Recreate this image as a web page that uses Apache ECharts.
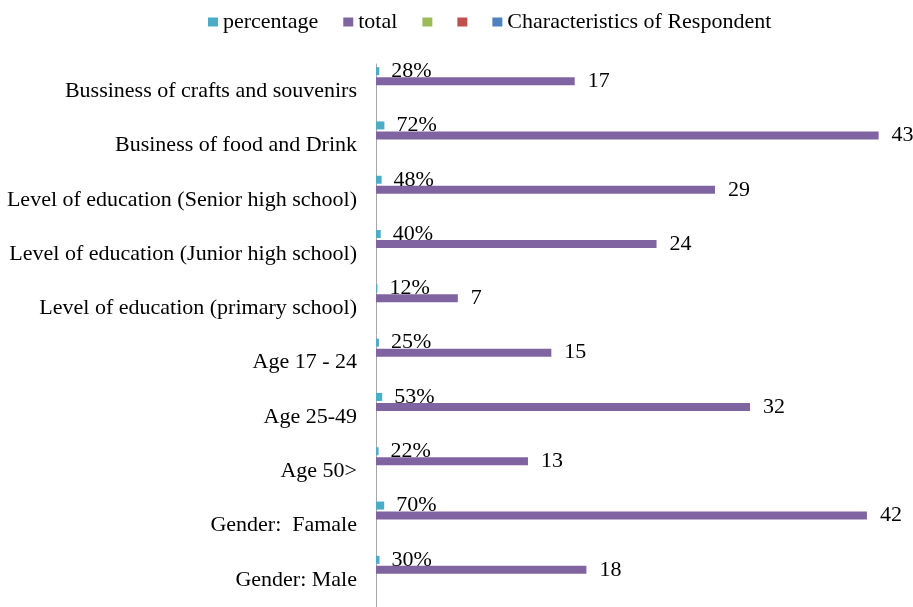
<!DOCTYPE html>
<html>
<head>
<meta charset="utf-8">
<script src="https://cdn.jsdelivr.net/npm/echarts@6/dist/echarts.min.js"></script>
<style>
html,body{margin:0;padding:0;background:#fff;}
#main{width:913px;height:607px;}
</style>
</head>
<body>
<div id="main"></div>
<script>
// top to bottom, as in the picture
var categories = ['Bussiness of crafts and souvenirs', 'Business of food and Drink',
	'Level of education (Senior high school)', 'Level of education (Junior high school)',
	'Level of education (primary school)', 'Age 17 - 24', 'Age 25-49', 'Age 50>',
	'Gender:  Famale', 'Gender: Male'];
var percentage = [0.28, 0.72, 0.48, 0.40, 0.12, 0.25, 0.53, 0.22, 0.70, 0.30];
var total = [17, 43, 29, 24, 7, 15, 32, 13, 42, 18];
var emptyValues = [null, null, null, null, null, null, null, null, null, null];

window.onload = function(){
	var myChart = echarts.init(document.getElementById('main'));
	var font = '"Liberation Serif", "Times New Roman", serif';
	var option = {
		backgroundColor: '#fff',
		animation: false,
		color: ['#4BACC6', '#8064A2', '#9BBB59', '#C0504D', '#4F81BD'],
		legend: {
			left: 208,
			top: 11,
			padding: 0,
			itemWidth: 10,
			itemHeight: 9,
			itemGap: 25,
			icon: 'rect',
			// the two unnamed series show only their square
			formatter: function(name){ return name.trim(); },
			textStyle: {fontFamily: font, fontSize: 22, color: '#000'},
			data: ['percentage', 'total', ' ', '  ', 'Characteristics of Respondent']
		},
		grid: {
			left: 376,
			right: 11,
			top: 64,
			height: 550
		},
		xAxis: {
			type: 'value',
			min: 0,
			max: 45,
			show: false
		},
		yAxis: {
			type: 'category',
			inverse: true,
			data: categories,
			axisLine: {show: true, lineStyle: {color: '#a6a6a6', width: 1}},
			axisTick: {show: false},
			axisLabel: {fontFamily: font, fontSize: 22, color: '#000', margin: 19}
		},
		series: [
			{
				name: 'percentage',
				type: 'bar',
				barWidth: 8,
				barGap: '25%',
				data: percentage,
				label: {
					show: true,
					position: 'right',
					distance: 12,
					fontFamily: font,
					fontSize: 22,
					color: '#000',
					formatter: function(p){ return Math.round(p.value * 100) + '%'; }
				}
			},
			{
				name: 'total',
				type: 'bar',
				barWidth: 8,
				data: total,
				label: {
					show: true,
					position: 'right',
					distance: 13,
					fontFamily: font,
					fontSize: 22,
					color: '#000'
				}
			},
			{name: ' ', type: 'bar', barWidth: 8, data: emptyValues},
			{name: '  ', type: 'bar', barWidth: 8, data: emptyValues},
			{name: 'Characteristics of Respondent', type: 'bar', barWidth: 8, data: emptyValues}
		]
	};
	myChart.setOption(option);
};
</script>
</body>
</html>
